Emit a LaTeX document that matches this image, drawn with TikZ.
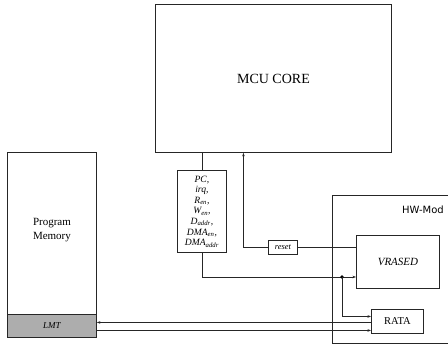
\documentclass[tikz,border=0pt]{standalone}
\usepackage{fontspec}
\setmainfont{Liberation Serif}
\newfontfamily\hwfont{DejaVu Sans}
\usetikzlibrary{arrows.meta}
\newcommand{\sbs}[1]{\textsubscript{#1}}
\begin{document}
\begin{tikzpicture}[x=1pt,y=-1pt,
  box/.style={draw=black!85,line width=0.9pt,inner sep=0pt,anchor=north west},
  conn/.style={draw=black!85,line width=0.8pt},
  arr/.style={conn,-{Stealth[length=3.5pt,width=2.6pt]}}]
\useasboundingbox (0,0) rectangle (448,347);
\clip (0,0) rectangle (448,347);
% MCU core
\node[box,minimum width=236pt,minimum height=148pt,font=\fontsize{14}{16}\selectfont] (mcu) at (155,4) {MCU CORE};
% Program memory
\node[box,draw=none,minimum width=89pt,minimum height=156pt,align=center,font=\fontsize{11}{14}\selectfont] (pm) at (7,152) {Program\\Memory};
\node[box,fill=black!32,minimum width=89pt,minimum height=23pt,font=\fontsize{9}{10}\selectfont\itshape] (lmt) at (7,314) {LMT};
\draw[draw=black!85,line width=0.9pt] (pm.north west) rectangle (lmt.south east);
% signal box
\node[box,minimum width=49pt,minimum height=82pt,align=center,font=\fontsize{9.6}{10.6}\selectfont\itshape] (sig) at (177,170)
  {PC,\\irq,\\R\sbs{en},\\W\sbs{en},\\D\sbs{addr},\\DMA\sbs{en},\\DMA\sbs{addr}};
% HW-Mod
\node[box,minimum width=140pt,minimum height=148pt] (hw) at (332,195) {};
\node[anchor=base east,inner sep=0pt,font=\hwfont\fontsize{10}{12}\selectfont] (hwl) at (444,214) {HW-Mod};
% VRASED and RATA
\node[box,minimum width=83pt,minimum height=53pt,font=\fontsize{11}{12}\selectfont\itshape] (vr) at (356,235) {VRASED};
\node[box,minimum width=52pt,minimum height=24pt,font=\fontsize{10.5}{12}\selectfont] (rata) at (371,309) {RATA};
% reset
\node[box,minimum width=29pt,minimum height=14pt,font=\fontsize{8.5}{9}\selectfont\itshape] (rst) at (268,240) {reset};
% connectors
\draw[conn] (sig.north) -- (sig.north |- mcu.south);
\draw[arr] (rst.west) -| ([xshift=-30pt]mcu.south);
\draw[conn] (rst.east) -- (rst.east -| vr.west);
\coordinate (j) at (342,277);
\draw[conn] (sig.south) |- (j);
\draw[arr] (j) -- (j -| vr.west);
\fill[black] (j) circle (1.8pt);
\coordinate (rj) at ([yshift=5pt]rata.west);
\draw[arr] (j) |- (rj);
\coordinate (r1) at ([yshift=-1pt]rata.west);
\draw[arr] (r1) -- (r1 -| lmt.east);
\coordinate (l2) at ([yshift=-4.5pt]lmt.east);
\draw[arr] (l2) -- (l2 -| rata.west);
\end{tikzpicture}
\end{document}
